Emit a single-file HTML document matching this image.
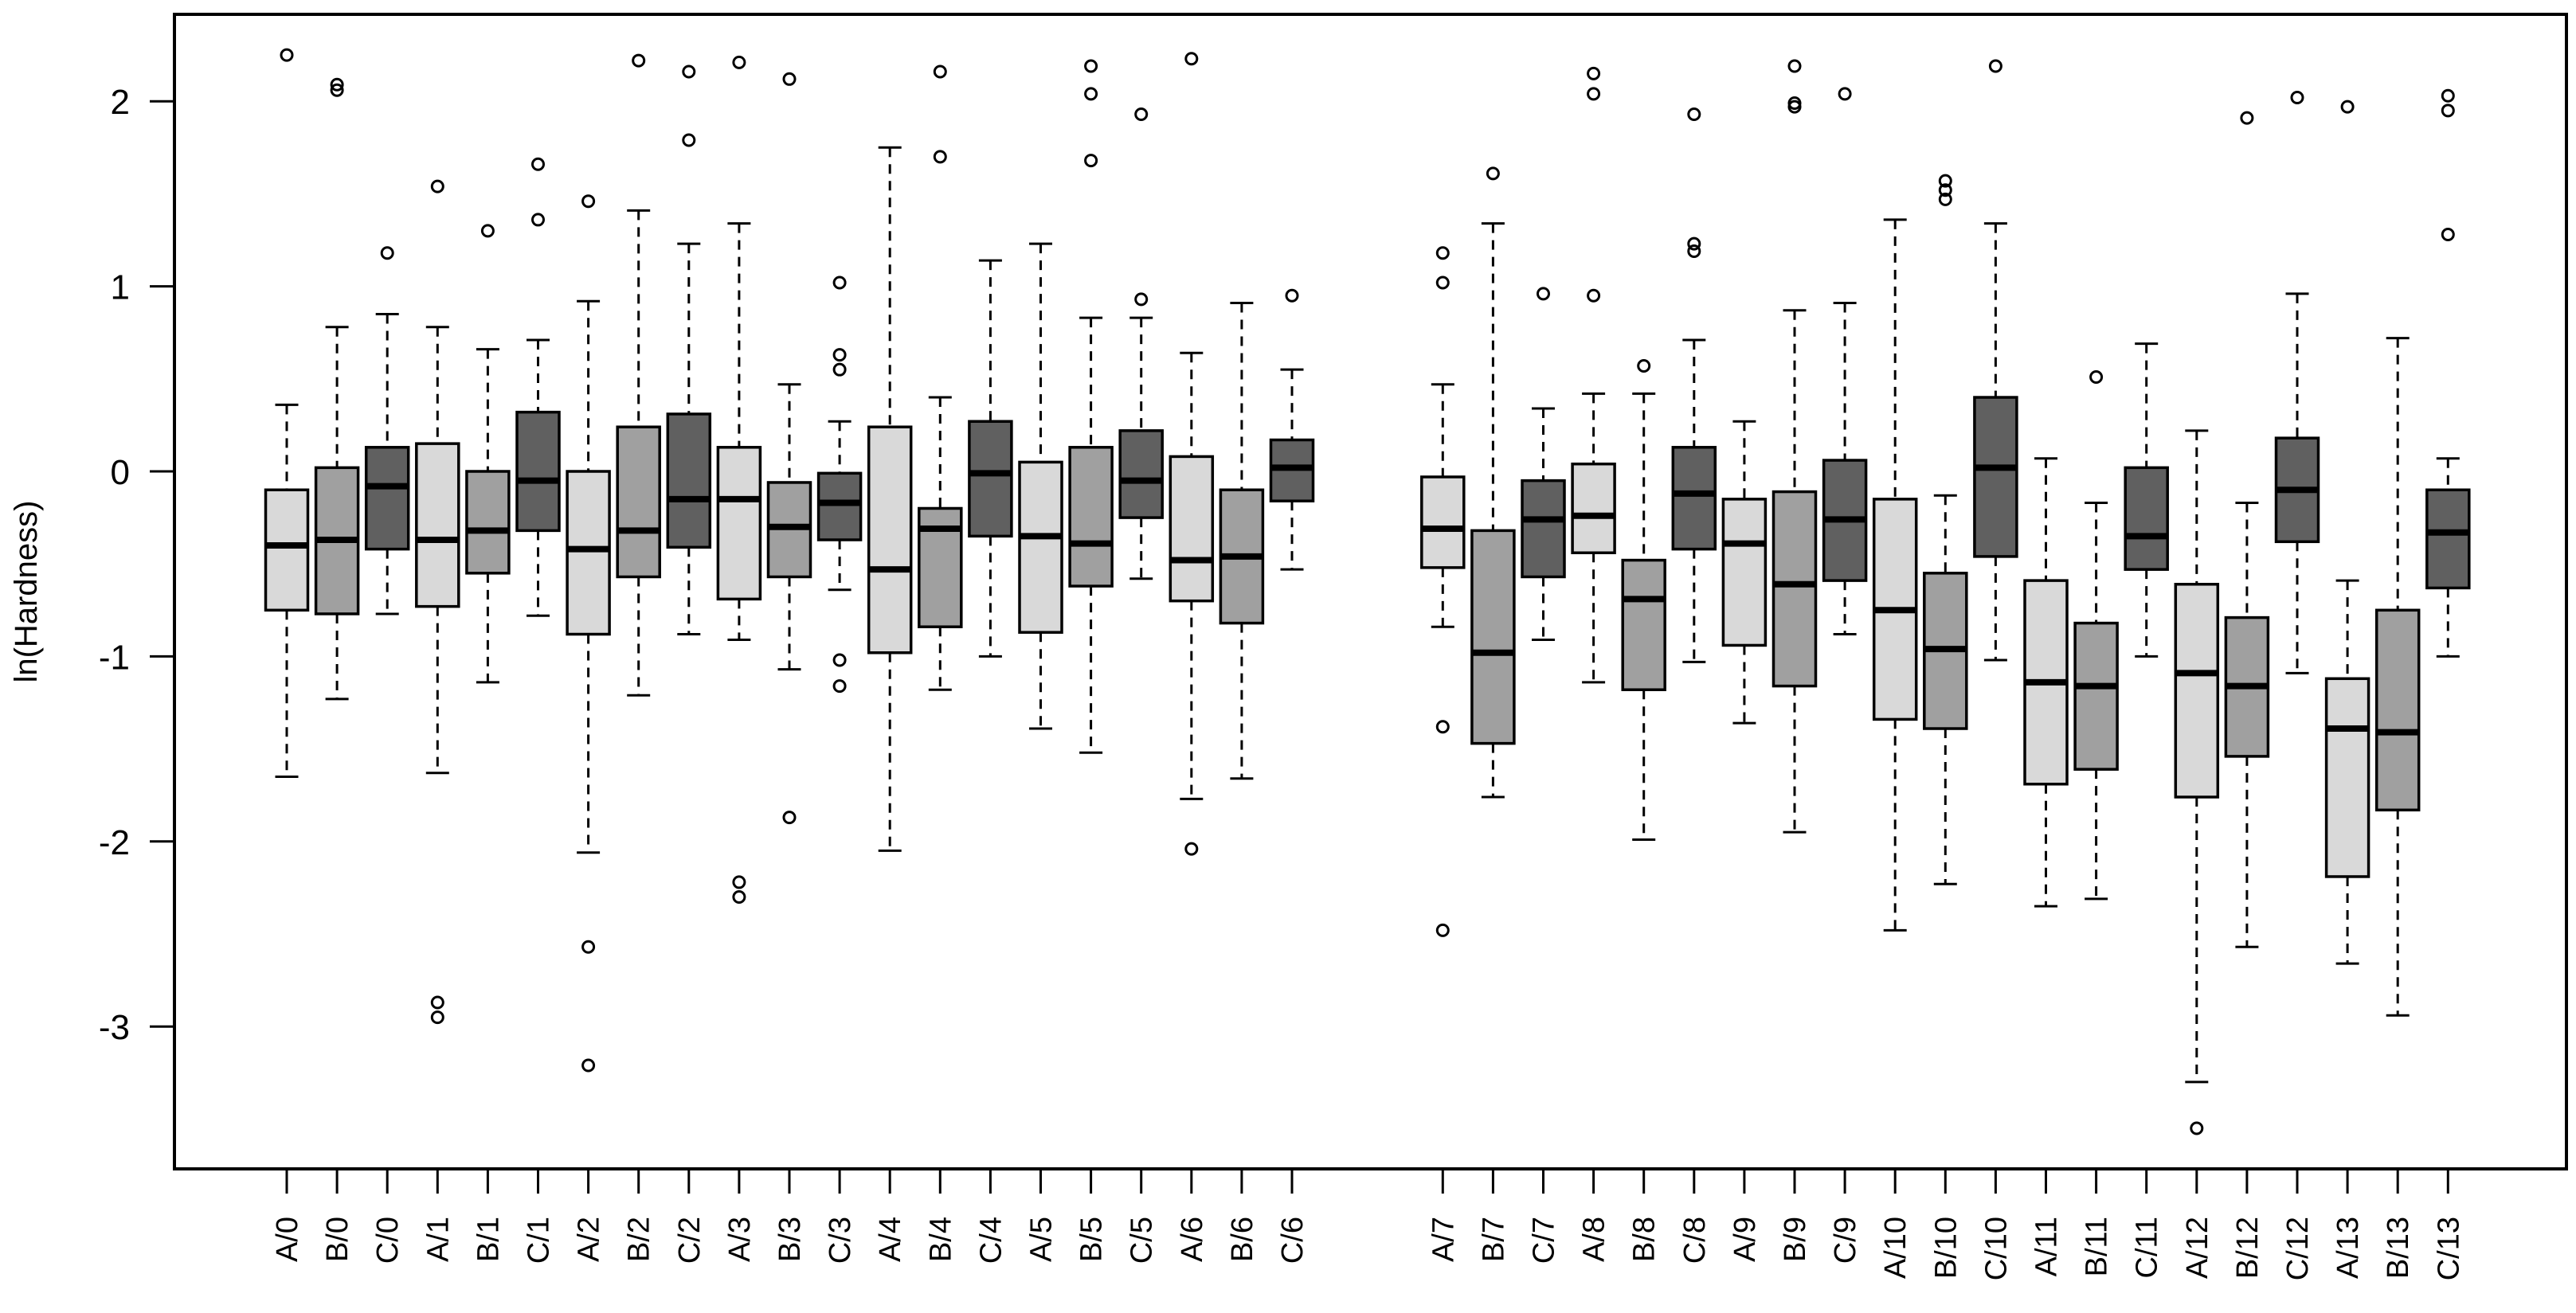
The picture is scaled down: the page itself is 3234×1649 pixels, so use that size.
<!DOCTYPE html>
<html><head><meta charset="utf-8"><style>
html,body{margin:0;padding:0;background:#fff;width:3234px;height:1649px;overflow:hidden}
svg text{font-family:"Liberation Sans",Arial,sans-serif;fill:#000}
</style></head><body>
<svg id="chart" width="3234" height="1649" viewBox="0 0 3234 1649" xmlns="http://www.w3.org/2000/svg"></svg>
<script>
const categories=["A/0","B/0","C/0","A/1","B/1","C/1","A/2","B/2","C/2","A/3","B/3","C/3","A/4","B/4","C/4","A/5","B/5","C/5","A/6","B/6","C/6","A/7","B/7","C/7","A/8","B/8","C/8","A/9","B/9","C/9","A/10","B/10","C/10","A/11","B/11","C/11","A/12","B/12","C/12","A/13","B/13","C/13"];
const lowWhisker=[-1.65,-1.23,-0.77,-1.63,-1.14,-0.78,-2.06,-1.21,-0.88,-0.91,-1.07,-0.64,-2.05,-1.18,-1.0,-1.39,-1.52,-0.58,-1.77,-1.66,-0.53,-0.84,-1.76,-0.91,-1.14,-1.99,-1.03,-1.36,-1.95,-0.88,-2.48,-2.23,-1.02,-2.35,-2.31,-1.0,-3.3,-2.57,-1.09,-2.66,-2.94,-1.0];
const q1=[-0.75,-0.77,-0.42,-0.73,-0.55,-0.32,-0.88,-0.57,-0.41,-0.69,-0.57,-0.37,-0.98,-0.84,-0.35,-0.87,-0.62,-0.25,-0.7,-0.82,-0.16,-0.52,-1.47,-0.57,-0.44,-1.18,-0.42,-0.94,-1.16,-0.59,-1.34,-1.39,-0.46,-1.69,-1.61,-0.53,-1.76,-1.54,-0.38,-2.19,-1.83,-0.63];
const median=[-0.4,-0.37,-0.08,-0.37,-0.32,-0.05,-0.42,-0.32,-0.15,-0.15,-0.3,-0.17,-0.53,-0.31,-0.01,-0.35,-0.39,-0.05,-0.48,-0.46,0.02,-0.31,-0.98,-0.26,-0.24,-0.69,-0.12,-0.39,-0.61,-0.26,-0.75,-0.96,0.02,-1.14,-1.16,-0.35,-1.09,-1.16,-0.1,-1.39,-1.41,-0.33];
const q3=[-0.1,0.02,0.13,0.15,0.0,0.32,0.0,0.24,0.31,0.13,-0.06,-0.01,0.24,-0.2,0.27,0.05,0.13,0.22,0.08,-0.1,0.17,-0.03,-0.32,-0.05,0.04,-0.48,0.13,-0.15,-0.11,0.06,-0.15,-0.55,0.4,-0.59,-0.82,0.02,-0.61,-0.79,0.18,-1.12,-0.75,-0.1];
const highWhisker=[0.36,0.78,0.85,0.78,0.66,0.71,0.92,1.41,1.23,1.34,0.47,0.27,1.75,0.4,1.14,1.23,0.83,0.83,0.64,0.91,0.55,0.47,1.34,0.34,0.42,0.42,0.71,0.27,0.87,0.91,1.36,-0.13,1.34,0.07,-0.17,0.69,0.22,-0.17,0.96,-0.59,0.72,0.07];
const outliers=[[2.25],[2.06,2.09],[1.18],[1.54,-2.87,-2.95],[1.3],[1.66,1.36],[1.46,-2.57,-3.21],[2.22],[2.16,1.79],[2.21,-2.22,-2.3],[2.12,-1.87],[1.02,0.63,0.55,-1.02,-1.16],[],[2.16,1.7],[],[],[2.19,2.04,1.68],[1.93,0.93],[2.23,-2.04],[],[0.95],[1.18,1.02,-1.38,-2.48],[1.61],[0.96],[2.15,2.04,0.95],[0.57],[1.93,1.23,1.19],[],[2.19,1.99,1.97],[2.04],[],[1.57,1.52,1.47],[2.19],[],[0.51],[],[-3.55],[1.91],[2.02],[1.97],[],[2.03,1.95,1.28]];
const yTicks=[-3,-2,-1,0,1,2];
const fills={A:"#d9d9d9",B:"#a0a0a0",C:"#606060"};

const NS="http://www.w3.org/2000/svg";
const svg=document.getElementById('chart');
const L=219,R=3222,T=18,B=1468;
const yScale=v=>592-v*232.4;
const xScale=i=>360+(i<21?i:i+2)*63.1;
function mk(tag,attrs,parent){const e=document.createElementNS(NS,tag);for(const k in attrs)e.setAttribute(k,attrs[k]);(parent||svg).appendChild(e);return e;}

const frame=mk('rect',{x:L,y:T,width:R-L,height:B-T,fill:'none',stroke:'#000','stroke-width':4});



const yAxis=mk('g',{});


yTicks.forEach(v=>{
  const y=yScale(v);
  const t=mk('line',{x1:188,x2:L,y1:y,y2:y,stroke:'#000','stroke-width':3},yAxis);
  
  
  const lb=mk('text',{x:163,y:y+16,'text-anchor':'end','font-size':44},yAxis);
  lb.textContent=v<0?'-'+Math.abs(v):String(v);
  
  
});
const yt=mk('text',{x:0,y:0,'text-anchor':'middle','font-size':40,transform:'translate(46,'+yScale(-0.65)+') rotate(-90)'});
yt.textContent='ln(Hardness)';



const bw=53,sw=29;
categories.forEach((c,i)=>{
  const x=xScale(i);
  const g=mk('g',{});
  
  
  mk('line',{x1:x,x2:x,y1:yScale(highWhisker[i]),y2:yScale(q3[i]),stroke:'#000','stroke-width':3,'stroke-dasharray':'12,9'},g);
  mk('line',{x1:x,x2:x,y1:yScale(q1[i]),y2:yScale(lowWhisker[i]),stroke:'#000','stroke-width':3,'stroke-dasharray':'12,9'},g);
  mk('line',{x1:x-sw/2,x2:x+sw/2,y1:yScale(highWhisker[i]),y2:yScale(highWhisker[i]),stroke:'#000','stroke-width':3},g);
  mk('line',{x1:x-sw/2,x2:x+sw/2,y1:yScale(lowWhisker[i]),y2:yScale(lowWhisker[i]),stroke:'#000','stroke-width':3},g);
  mk('rect',{x:x-bw/2,y:yScale(q3[i]),width:bw,height:yScale(q1[i])-yScale(q3[i]),fill:fills[c[0]],stroke:'#000','stroke-width':3.5},g);
  mk('line',{x1:x-bw/2,x2:x+bw/2,y1:yScale(median[i]),y2:yScale(median[i]),stroke:'#000','stroke-width':8},g);
  outliers[i].forEach(o=>{mk('circle',{cx:x,cy:yScale(o),r:7,fill:'none',stroke:'#000','stroke-width':3},g);});
  const tk=mk('line',{x1:x,x2:x,y1:B,y2:B+31,stroke:'#000','stroke-width':3});
  
  
  const lb=mk('text',{x:0,y:0,'text-anchor':'end','font-size':38,transform:'translate('+(x+13)+','+(B+60)+') rotate(-90)'});
  lb.textContent=c;
  
  
});
</script>
</body></html>
